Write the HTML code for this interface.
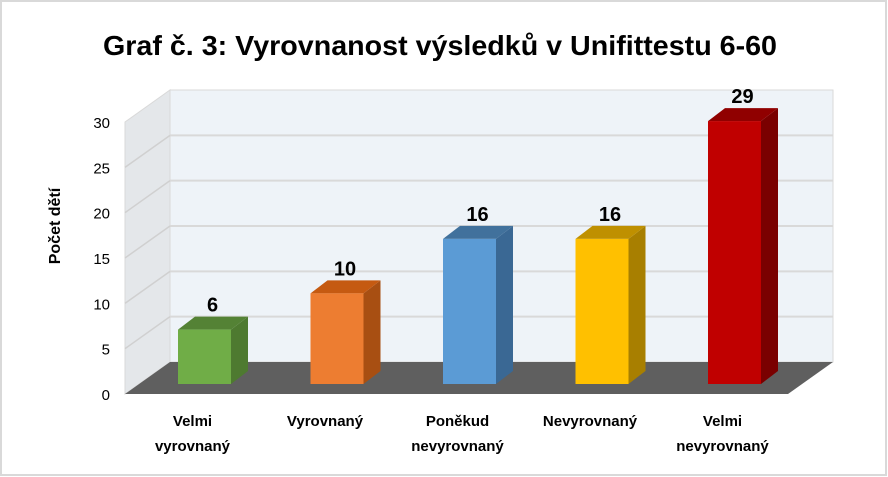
<!DOCTYPE html>
<html><head><meta charset="utf-8"><style>
html,body{margin:0;padding:0;background:#fff}
svg{display:block;font-family:"Liberation Sans",sans-serif}
</style></head><body>
<svg width="888" height="477" viewBox="0 0 888 477">
<rect x="1" y="1" width="885" height="474" fill="#fff" stroke="#d9d9d9" stroke-width="2"/>
<text x="440" y="55" text-anchor="middle" font-size="28" font-weight="bold" textLength="674" lengthAdjust="spacingAndGlyphs">Graf č. 3: Vyrovnanost výsledků v Unifittestu 6-60</text>
<text transform="translate(60,226) rotate(-90)" text-anchor="middle" font-size="16" font-weight="bold">Počet dětí</text>
<g id="plot"></g>
</svg>
<script>
const categories=[["Velmi","vyrovnaný"],["Vyrovnaný"],["Poněkud","nevyrovnaný"],["Nevyrovnaný"],["Velmi","nevyrovnaný"]];
const values=[6,10,16,16,29];
const yTicks=[0,5,10,15,20,25,30];
const colors=[["#70ad47","#548235","#4e7a30"],["#ed7d31","#c55a11","#a84f12"],["#5b9bd5","#41719c","#3a6894"],["#ffc000","#bf9000","#a87f00"],["#c00000","#900000","#7a0000"]];
const NS="http://www.w3.org/2000/svg";
const g=document.getElementById('plot');
const DX=45,DY=-32, X0=125,X1=788, YF=394, UNIT=272/30;
const yFront=v=>YF-v*UNIT;
const xCat=i=>204.5+i*132.5;
function mk(tag,attrs,name,parent){const e=document.createElementNS(NS,tag);for(const k in attrs)e.setAttribute(k,attrs[k]);


(parent||g).appendChild(e);return e;}
// back wall
mk('rect',{x:X0+DX,y:yFront(30)+DY,width:X1-X0,height:30*UNIT,fill:"#eef3f8",stroke:"#d9d9d9"},'back-wall');
// left wall
mk('polygon',{points:`${X0},${yFront(30)} ${X0+DX},${yFront(30)+DY} ${X0+DX},${YF+DY} ${X0},${YF}`,fill:"#e4e7ea",stroke:"#d9d9d9"},'side-wall');
yTicks.forEach(t=>{
 if(t>0&&t<30){
  mk('line',{x1:X0+DX,y1:yFront(t)+DY,x2:X1+DX,y2:yFront(t)+DY,stroke:"#d9d9d9","stroke-width":2},'gridline');
  mk('line',{x1:X0,y1:yFront(t),x2:X0+DX,y2:yFront(t)+DY,stroke:"#d0d0d0","stroke-width":1.5},'gridline-side');
 }
 const tx=mk('text',{x:110,y:yFront(t)+6,"text-anchor":"end","font-size":15,fill:"#000"},'y-tick-label');
 tx.textContent=t;
});
// floor
mk('polygon',{points:`${X0},${YF} ${X0+DX},${YF+DY} ${X1+DX},${YF+DY} ${X1},${YF}`,fill:"#5f5f5f"},'floor');
const BW=53,bdx=17,bdy=-13,BB=384;
values.forEach((v,i)=>{
 const x=xCat(i)-BW/2, top=BB-v*UNIT, c=colors[i];
 mk('polygon',{points:`${x+BW},${BB} ${x+BW+bdx},${BB+bdy} ${x+BW+bdx},${top+bdy} ${x+BW},${top}`,fill:c[2]},'bar-side');
 mk('polygon',{points:`${x},${top} ${x+bdx},${top+bdy} ${x+BW+bdx},${top+bdy} ${x+BW},${top}`,fill:c[1]},'bar-top');
 mk('rect',{x:x,y:top,width:BW,height:v*UNIT,fill:c[0]},'bar');
 const l=mk('text',{x:xCat(i)+8,y:top-18,"text-anchor":"middle","font-size":20,"font-weight":"bold"},'data-label');
 l.textContent=v;
 categories[i].forEach((s,j)=>{
  const t=mk('text',{x:xCat(i)-12,y:426+j*25,"text-anchor":"middle","font-size":15,"font-weight":"bold"},'x-tick-label');
  t.textContent=s;
 });
});
</script>
</body></html>
